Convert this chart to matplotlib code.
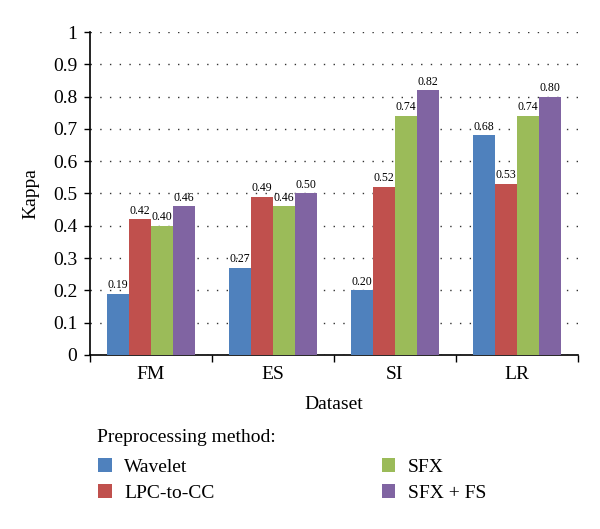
import matplotlib
matplotlib.use("Agg")
import matplotlib.pyplot as plt
import numpy as np

plt.rcParams['font.family'] = ['Liberation Serif', 'DejaVu Serif']

categories = ["FM", "ES", "SI", "LR"]
series_names = ["Wavelet", "LPC-to-CC", "SFX", "SFX + FS"]
wavelet = [0.19, 0.27, 0.20, 0.68]
lpc = [0.42, 0.49, 0.52, 0.53]
sfx = [0.40, 0.46, 0.74, 0.74]
sfx_fs = [0.46, 0.50, 0.82, 0.80]
colors = ["#4F81BD", "#C0504D", "#9BBB59", "#8064A2"]
yticks = [0, 0.1, 0.2, 0.3, 0.4, 0.5, 0.6, 0.7, 0.8, 0.9, 1]
ytick_labels = ["0", "0.1", "0.2", "0.3", "0.4", "0.5", "0.6", "0.7", "0.8", "0.9", "1"]

fig = plt.figure(figsize=(6, 5.29), dpi=100)
ax = fig.add_axes([0.15, 0.329, 0.813, 0.6105])

x = np.arange(len(categories))
w = 0.18
all_series = [wavelet, lpc, sfx, sfx_fs]
handles = []
for i, (vals, c, name) in enumerate(zip(all_series, colors, series_names)):
    pos = x + (i - 1.5) * w
    b = ax.bar(pos, vals, width=w, color=c, label=name, zorder=3)
    handles.append(b)
    for p, v in zip(pos, vals):
        ax.text(p, v + 0.008, f"{v:.2f}", ha="center", va="bottom", fontsize=8.5, zorder=4)

ax.set_xlim(-0.5, 3.5)
ax.set_ylim(0, 1)
ax.set_yticks(yticks)
ax.set_yticklabels(ytick_labels, fontsize=14)
ax.set_xticks(x)
ax.set_xticklabels(categories, fontsize=14)
ax.set_xticks(np.arange(-0.5, 4.0, 1.0), minor=True)
ax.tick_params(axis="x", which="major", length=0, pad=8)
ax.tick_params(axis="x", which="minor", length=5, direction="out", width=1)
ax.tick_params(axis="y", length=4, direction="out", width=1, pad=5)
ax.yaxis.grid(True, linestyle=(0, (1, 6)), color="#333333", linewidth=1.0, zorder=0)
for s in ["top", "right"]:
    ax.spines[s].set_visible(False)
for s in ["left", "bottom"]:
    ax.spines[s].set_linewidth(1.2)
ax.set_ylabel("Kappa", fontsize=14, labelpad=10)
ax.set_xlabel("Dataset", fontsize=14, labelpad=9)

fig.text(97 / 600, 1 - 437 / 529, "Preprocessing method:", fontsize=14,
         ha="left", va="center")
leg = fig.legend(handles=handles, labels=series_names, loc="upper left",
                 bbox_to_anchor=(98 / 600, 1 - 458 / 529), ncol=2, frameon=False,
                 fontsize=14, handlelength=0.7, handleheight=0.7, handletextpad=0.65,
                 columnspacing=8.6, labelspacing=0.45, borderaxespad=0, borderpad=0)

fig.savefig("out.png", dpi=100)
